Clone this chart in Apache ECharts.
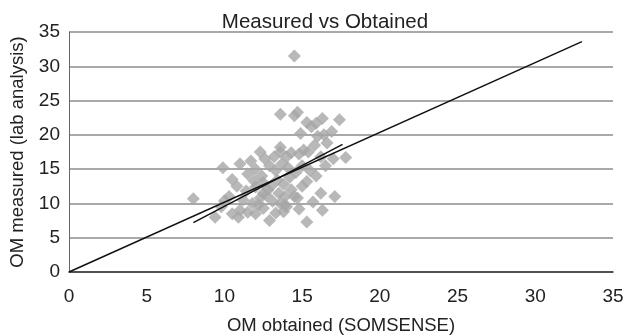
<!DOCTYPE html>
<html>
<head>
<meta charset="utf-8">
<script src="https://cdn.jsdelivr.net/npm/echarts@6/dist/echarts.min.js"></script>
<style>html,body{margin:0;padding:0;background:#fff}#c{width:623px;height:336px}</style>
</head>
<body>
<div id="c"></div>
<script>
var titleText = "Measured vs Obtained";
var xName = "OM obtained (SOMSENSE)";
var yName = "OM measured (lab analysis)";
var xTicks = [0, 5, 10, 15, 20, 25, 30, 35];
var yTicks = [0, 5, 10, 15, 20, 25, 30, 35];
var obtained = [14.5,8.0,9.9,10.5,9.4,10.5,15.9,16.2,17.1,16.3,15.3,15.7,14.7,17.8,17.0,13.6,14.7,16.3,17.4,16.9,14.9,16.0,13.6,16.6,15.1,14.5,15.3,15.6,15.9,14.3,14.8,15.4,
11.0,11.5,12.0,12.5,12.9,13.3,13.8,14.0,11.2,11.8,12.3,12.7,13.1,13.5,13.9,14.3,12.0,12.5,13.0,13.4,13.8,14.2,11.5,12.0,12.4,12.9,13.3,13.7,14.1,14.6,11.0,11.7,12.6,13.2,14.0,15.0,15.5,10.8,10.3,9.8,10.9,12.2,14.8,15.0,15.3,14.5,13.6,12.8,11.4,10.0,16.5,16.2,15.8,16.4,13.9,12.5,11.9,13.6,12.3];
var measured = [31.5,10.7,15.2,13.5,8.0,8.5,14.0,11.5,11.0,9.0,7.3,10.2,10.8,16.7,16.5,23.0,23.3,22.4,22.2,20.5,20.2,19.8,18.2,18.8,17.8,22.8,21.8,21.2,21.7,17.4,17.2,17.5,
9.0,8.7,8.5,9.3,7.5,8.6,8.8,9.5,10.5,10.0,10.8,11.2,10.3,11.5,11.0,12.0,12.4,13.0,12.5,13.4,12.8,13.8,14.3,15.0,14.0,15.5,14.8,15.8,15.2,14.5,15.8,16.2,16.5,16.8,16.8,15.5,14.8,12.5,11.0,9.5,8.0,9.8,9.2,12.5,13.2,11.0,10.0,12.0,11.8,10.4,15.5,16.8,18.5,20.0,9.8,11.5,13.3,17.5,17.5];
var line1X = [0, 33.0];
var line1Y = [0, 33.6];
var line2X = [8.0, 17.6];
var line2Y = [7.2, 18.6];

var pts = obtained.map(function(x, i){ return [x, measured[i]]; });
var l1 = line1X.map(function(x, i){ return [x, line1Y[i]]; });
var l2 = line2X.map(function(x, i){ return [x, line2Y[i]]; });

var chart = echarts.init(document.getElementById('c'));
var font = 'Liberation Sans, Arial, sans-serif';
chart.setOption({
  animation: false,
  title: {
    text: titleText, left: 320, top: 7, textAlign: 'center',
    textStyle: {fontFamily: font, fontSize: 20.5, fontWeight: 'normal', color: '#222'}
  },
  grid: {left: 69, right: 10, top: 32, bottom: 64, outerBoundsMode: 'none', containLabel: false},
  xAxis: {
    type: 'value', min: xTicks[0], max: xTicks[xTicks.length-1], interval: 5,
    name: xName, nameLocation: 'middle', nameGap: 44,
    nameTextStyle: {fontFamily: font, fontSize: 18.5, color: '#222'},
    axisLine: {show: true, onZero: false, lineStyle: {color: '#333', width: 1.5}},
    axisTick: {show: false},
    axisLabel: {fontFamily: font, fontSize: 19, color: '#222', margin: 15},
    splitLine: {show: false}
  },
  yAxis: {
    type: 'value', min: yTicks[0], max: yTicks[yTicks.length-1], interval: 5,
    name: yName, nameLocation: 'middle', nameGap: 42,
    nameTextStyle: {fontFamily: font, fontSize: 18.5, color: '#222'},
    axisLine: {show: true, lineStyle: {color: '#666', width: 1}},
    axisTick: {show: false},
    axisLabel: {fontFamily: font, fontSize: 19, color: '#222', margin: 9},
    splitLine: {show: true, lineStyle: {color: '#8c8c8c', width: 1.5}}
  },
  series: [
    {type: 'scatter', data: pts, symbol: 'diamond', symbolSize: 13,
     itemStyle: {color: '#a6a6a6'}, z: 2},
    {type: 'line', data: l1, symbol: 'none', lineStyle: {color: '#111', width: 1.5}, z: 3},
    {type: 'line', data: l2, symbol: 'none', lineStyle: {color: '#111', width: 1.5}, z: 3}
  ]
});
</script>
</body>
</html>
